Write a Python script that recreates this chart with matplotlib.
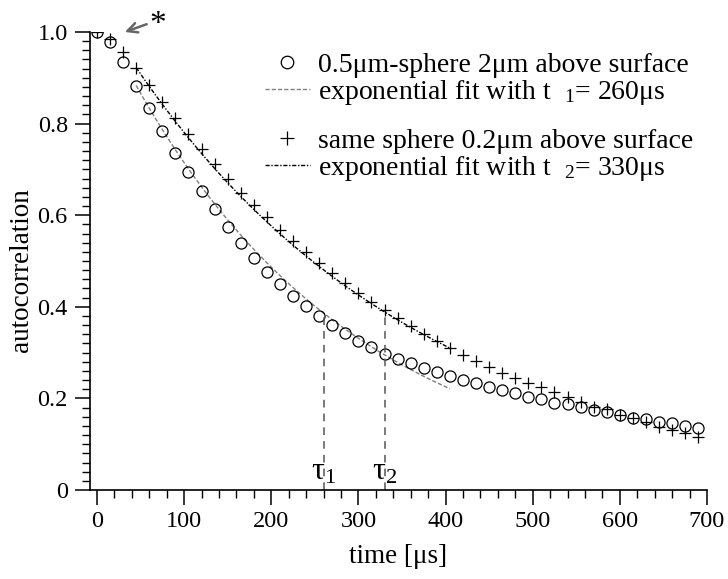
import matplotlib
matplotlib.use("Agg")
import matplotlib.pyplot as plt
from matplotlib.lines import Line2D
from matplotlib.ticker import MultipleLocator
import numpy as np

# шрифт как в оригинале (Times)
plt.rcParams['font.family'] = ['Liberation Serif', 'DejaVu Serif']
plt.rcParams['mathtext.fontset'] = 'custom'
plt.rcParams['mathtext.rm'] = 'Liberation Serif'
plt.rcParams['mathtext.it'] = 'Liberation Serif:italic'
plt.rcParams['mathtext.default'] = 'regular'

# данные (мкс, автокорреляция)
t_us = list(range(0, 691, 15))
sphere_2um = [1.000, 0.979, 0.934, 0.883, 0.833, 0.784, 0.736, 0.694, 0.652, 0.613,
              0.575, 0.539, 0.506, 0.477, 0.450, 0.424, 0.401, 0.380, 0.360, 0.342,
              0.325, 0.312, 0.298, 0.287, 0.277, 0.267, 0.258, 0.249, 0.240, 0.233,
              0.224, 0.218, 0.211, 0.204, 0.198, 0.191, 0.187, 0.181, 0.175, 0.170,
              0.164, 0.157, 0.155, 0.149, 0.146, 0.140, 0.136]
sphere_02um = [1.000, 0.985, 0.957, 0.921, 0.884, 0.848, 0.812, 0.777, 0.745, 0.712,
               0.680, 0.649, 0.622, 0.595, 0.568, 0.544, 0.520, 0.496, 0.473, 0.453,
               0.431, 0.411, 0.393, 0.375, 0.357, 0.341, 0.326, 0.309, 0.295, 0.282,
               0.269, 0.256, 0.245, 0.234, 0.224, 0.215, 0.204, 0.193, 0.181, 0.176,
               0.164, 0.157, 0.149, 0.138, 0.131, 0.124, 0.116]

# параметры экспоненциальных фитов
tau1, amp1 = 260, 1.050
tau2, amp2 = 330, 1.057
fit_start, fit_end = 45, 405

labels = ['0.5μm-sphere 2μm above surface',
          'exponential fit with t  $_{1}$= 260μs',
          'same sphere 0.2μm above surface',
          'exponential fit with t  $_{2}$= 330μs']

fig = plt.figure(figsize=(7.28, 5.79), dpi=100)
ax = fig.add_axes([90 / 728, 89 / 579, 617 / 728, 458 / 579])

t_fit = np.linspace(fit_start, fit_end, 200)
fit1 = amp1 * np.exp(-t_fit / tau1)
fit2 = amp2 * np.exp(-t_fit / tau2)

style1 = dict(color='#808080', lw=1.0, linestyle=(0, (3, 1.5)))
style2 = dict(color='black', lw=1.0, linestyle=(0, (3, 1.2, 1, 1.2)))

ax.plot(t_fit, fit1, **style1)
ax.plot(t_fit, fit2, **style2)
ax.plot(t_us, sphere_2um, 'o', mfc='none', mec='black', ms=8, mew=0.9)
ax.plot(t_us, sphere_02um, '+', color='black', ms=8, mew=0.9)

# вертикальные линии tau
ax.vlines(tau1, 0, amp1 * np.exp(-1), color='#555555', lw=1.1, linestyles=(0, (5, 4)))
ax.vlines(tau2, 0, amp2 * np.exp(-1), color='#555555', lw=1.1, linestyles=(0, (5, 4)))
ax.text(tau1, 0.008, r'$\tau_1$', ha='center', va='bottom', fontsize=23)
ax.text(tau2, 0.008, r'$\tau_2$', ha='center', va='bottom', fontsize=23)

# звёздочка со стрелкой
ax.annotate('', xy=(29, 0.998), xytext=(60, 1.019), annotation_clip=False,
            arrowprops=dict(arrowstyle='->,head_length=0.7,head_width=0.35',
                            color='#666666', lw=1.8))
ax.text(70, 1.015, '*', fontsize=24, ha='center', va='center', clip_on=False)

ax.set_xlim(-8, 700)
ax.set_ylim(0, 1.0)
ax.xaxis.set_major_locator(MultipleLocator(100))
ax.xaxis.set_minor_locator(MultipleLocator(20))
ax.yaxis.set_minor_locator(MultipleLocator(0.02))
ax.set_yticks([0, 0.2, 0.4, 0.6, 0.8, 1.0])
ax.set_yticklabels(['0', '0.2', '0.4', '0.6', '0.8', '1.0'])
ax.tick_params(which='major', direction='out', length=11, width=1.1, labelsize=17.5, pad=4)
ax.tick_params(which='minor', direction='out', length=6, width=1.0)
ax.tick_params(axis='y', which='major', pad=5)

for s in ['top', 'right']:
    ax.spines[s].set_visible(False)
for s in ['left', 'bottom']:
    ax.spines[s].set_linewidth(1.2)

ax.set_xlabel('time [μs]', fontsize=19.5)
ax.set_ylabel('autocorrelation', fontsize=19.5)
ax.xaxis.set_label_coords(0.5, -0.117)
ax.yaxis.set_label_coords(-0.09, 0.48)

handles = [Line2D([], [], marker='o', ls='none', mfc='none', mec='black', ms=9, mew=0.9),
           Line2D([], [], **style1),
           Line2D([], [], marker='+', ls='none', color='black', ms=10, mew=0.9),
           Line2D([], [], **style2)]
leg1 = ax.legend(handles[:2], labels[:2], loc='upper left', bbox_to_anchor=(0.284, 0.955),
                 frameon=False, fontsize=20, handlelength=1.6, handletextpad=0.3,
                 labelspacing=0.0, borderpad=0, borderaxespad=0)
ax.add_artist(leg1)
ax.legend(handles[2:], labels[2:], loc='upper left', bbox_to_anchor=(0.284, 0.79),
          frameon=False, fontsize=20, handlelength=1.6, handletextpad=0.3,
          labelspacing=0.0, borderpad=0, borderaxespad=0)

fig.savefig('out.png', dpi=100)
